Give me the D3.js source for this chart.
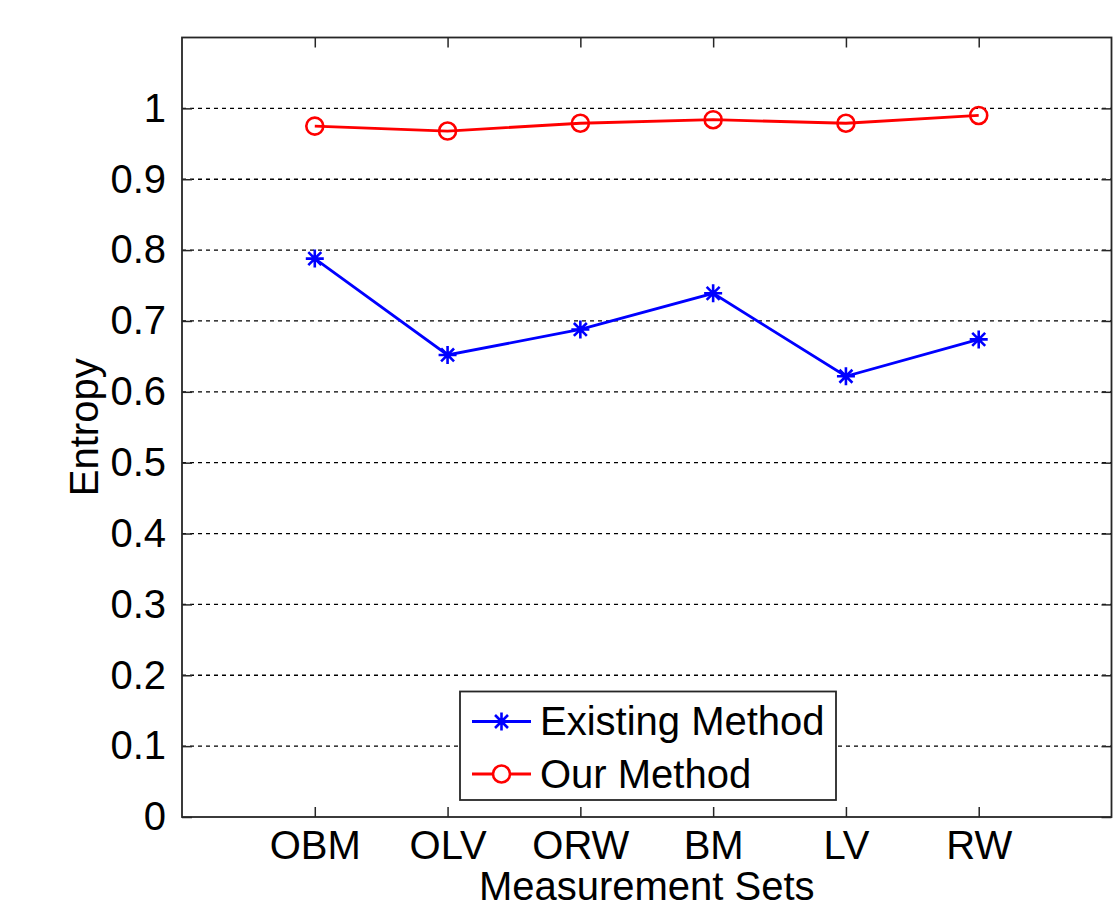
<!DOCTYPE html>
<html>
<head>
<meta charset="utf-8">
<script src="https://cdn.jsdelivr.net/npm/d3@7"></script>
<style>
  body { margin: 0; background: #fff; }
  text { font-family: Arial, "Liberation Sans", sans-serif; fill: #000; }
</style>
</head>
<body>
<svg id="chart" width="1113" height="903"></svg>
<script>
var categories = ["OBM", "OLV", "ORW", "BM", "LV", "RW"];
var existingMethod = [0.788, 0.652, 0.688, 0.739, 0.622, 0.674];
var ourMethod = [0.975, 0.968, 0.979, 0.984, 0.979, 0.990];
var yTicks = [0, 0.1, 0.2, 0.3, 0.4, 0.5, 0.6, 0.7, 0.8, 0.9, 1];

// plot box (note: "top" is reserved on window, so use other names)
var plotL = 182, plotR = 1111.5, plotT = 37.5, plotB = 817;
var svg = d3.select('#chart');

var x = d3.scaleLinear().domain([0, 7]).range([plotL, plotR]);
var y = d3.scaleLinear().domain([0, 1.1]).range([plotB, plotT]);

// grid
svg.append('g').selectAll('line')
  .data(yTicks.filter(function(d){ return d > 0; }))
  .enter().append('line')
  .attr('x1', plotL).attr('x2', plotR)
  .attr('y1', function(d){ return y(d); })
  .attr('y2', function(d){ return y(d); })
  .attr('stroke', '#000').attr('stroke-width', 1.3)
  .attr('stroke-dasharray', '4,4');

// axes (ticks inward)
var tickLen = 10;
svg.append('g').attr('transform', 'translate(0,' + plotB + ')')
  .call(d3.axisBottom(x).tickValues(d3.range(1, 7)).tickSizeInner(-tickLen).tickSizeOuter(0)
    .tickPadding(14).tickFormat(function(d){ return categories[d - 1]; }))
  .call(function(g){
    g.select('.domain').remove();
    g.selectAll('text').attr('font-size', 40).attr('font-family', 'Arial, "Liberation Sans", sans-serif');
  });
svg.append('g').attr('transform', 'translate(0,' + plotT + ')')
  .call(d3.axisTop(x).tickValues(d3.range(1, 7)).tickSizeInner(-tickLen).tickSizeOuter(0).tickFormat(''))
  .call(function(g){ g.select('.domain').remove(); });
svg.append('g').attr('transform', 'translate(' + plotL + ',0)')
  .call(d3.axisLeft(y).tickValues(yTicks).tickSizeInner(-tickLen).tickSizeOuter(0)
    .tickPadding(16).tickFormat(d3.format('~g')))
  .call(function(g){
    g.select('.domain').remove();
    g.selectAll('text').attr('font-size', 40).attr('font-family', 'Arial, "Liberation Sans", sans-serif');
  });
svg.append('g').attr('transform', 'translate(' + plotR + ',0)')
  .call(d3.axisRight(y).tickValues(yTicks).tickSizeInner(-tickLen).tickSizeOuter(0).tickFormat(''))
  .call(function(g){ g.select('.domain').remove(); });
svg.selectAll('.tick line').attr('stroke', '#262626').attr('stroke-width', 1.5);

// frame
svg.append('rect')
  .attr('x', plotL).attr('y', plotT)
  .attr('width', plotR - plotL).attr('height', plotB - plotT)
  .attr('fill', 'none').attr('stroke', '#262626').attr('stroke-width', 1.8);

// axis titles
svg.append('text')
  .attr('x', (plotL + plotR) / 2).attr('y', 900)
  .attr('text-anchor', 'middle').attr('font-size', 40)
  .text('Measurement Sets');
svg.append('text')
  .attr('transform', 'translate(98,' + ((plotT + plotB) / 2) + ') rotate(-90)')
  .attr('text-anchor', 'middle').attr('font-size', 40)
  .text('Entropy');

function star(g, cx, cy, color, s) {
  var d = 'M' + (cx - s) + ',' + cy + 'H' + (cx + s) +
          'M' + cx + ',' + (cy - s) + 'V' + (cy + s) +
          'M' + (cx - s * 0.72) + ',' + (cy - s * 0.72) + 'L' + (cx + s * 0.72) + ',' + (cy + s * 0.72) +
          'M' + (cx - s * 0.72) + ',' + (cy + s * 0.72) + 'L' + (cx + s * 0.72) + ',' + (cy - s * 0.72);
  g.append('path').attr('d', d).attr('stroke', color).attr('stroke-width', 2.6).attr('fill', 'none');
}

var line = d3.line()
  .x(function(d, i){ return x(i + 1); })
  .y(function(d){ return y(d); });

// Existing Method
svg.append('path').datum(existingMethod)
  .attr('d', line).attr('fill', 'none')
  .attr('stroke', '#0000ff').attr('stroke-width', 2.8);
var blueMarks = svg.append('g');
existingMethod.forEach(function(d, i){ star(blueMarks, x(i + 1), y(d), '#0000ff', 9); });

// Our Method
svg.append('path').datum(ourMethod)
  .attr('d', line).attr('fill', 'none')
  .attr('stroke', '#ff0000').attr('stroke-width', 2.8);
svg.append('g').selectAll('circle')
  .data(ourMethod)
  .enter().append('circle')
  .attr('cx', function(d, i){ return x(i + 1); })
  .attr('cy', function(d){ return y(d); })
  .attr('r', 8.5)
  .attr('fill', 'none').attr('stroke', '#ff0000').attr('stroke-width', 2.6);

// legend
var lg = svg.append('g');
lg.append('rect').attr('x', 460).attr('y', 691.5).attr('width', 376).attr('height', 108.5)
  .attr('fill', '#fff').attr('stroke', '#262626').attr('stroke-width', 1.8);
lg.append('line').attr('x1', 472).attr('x2', 531).attr('y1', 721.5).attr('y2', 721.5)
  .attr('stroke', '#0000ff').attr('stroke-width', 2.8);
star(lg, 501.5, 721.5, '#0000ff', 9);
lg.append('text').attr('x', 540).attr('y', 735).attr('font-size', 40).text('Existing Method');
lg.append('line').attr('x1', 472).attr('x2', 531).attr('y1', 774).attr('y2', 774)
  .attr('stroke', '#ff0000').attr('stroke-width', 2.8);
lg.append('circle').attr('cx', 501.5).attr('cy', 774).attr('r', 8.5)
  .attr('fill', '#fff').attr('stroke', '#ff0000').attr('stroke-width', 2.6);
lg.append('text').attr('x', 540).attr('y', 788).attr('font-size', 40).text('Our Method');
</script>
</body>
</html>
